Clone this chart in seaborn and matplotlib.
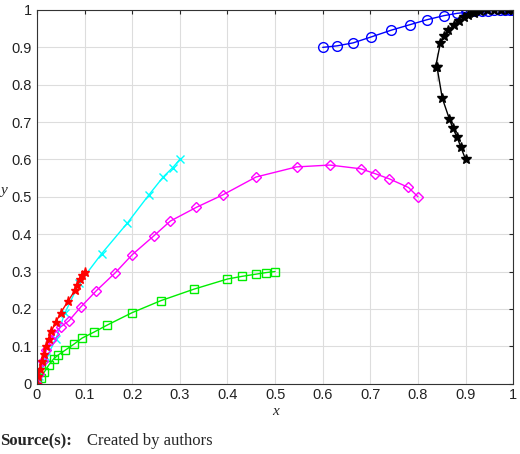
import matplotlib
matplotlib.use("Agg")
import matplotlib.pyplot as plt
import seaborn as sns
import pandas as pd

# curve data
blue_x = [0.6, 0.63, 0.664, 0.702, 0.744, 0.784, 0.819, 0.855, 0.882, 0.903, 0.92, 0.935,
          0.948, 0.96, 0.973, 0.983, 0.994, 1.0]
blue_y = [0.9, 0.904, 0.912, 0.928, 0.946, 0.961, 0.974, 0.985, 0.991, 0.994, 0.996, 0.997,
          0.998, 0.999, 1.0, 1.0, 1.0, 1.0]
black_x = [0.9, 0.89, 0.882, 0.873, 0.866, 0.851, 0.84, 0.837, 0.84, 0.847, 0.855, 0.864,
           0.875, 0.887, 0.897, 0.906, 0.917, 0.931, 0.945, 0.96, 0.975, 0.99, 1.0]
black_y = [0.6, 0.633, 0.66, 0.684, 0.708, 0.764, 0.811, 0.848, 0.884, 0.911, 0.93, 0.947,
           0.96, 0.971, 0.98, 0.987, 0.993, 0.997, 0.999, 1.0, 1.0, 1.0, 1.0]
cyan_x = [0.0, 0.005, 0.02, 0.04, 0.059, 0.089, 0.136, 0.19, 0.235, 0.265, 0.285, 0.3]
cyan_y = [0.0, 0.02, 0.07, 0.12, 0.19, 0.269, 0.348, 0.43, 0.505, 0.553, 0.578, 0.6]
red_x = [0.0, 0.003, 0.006, 0.01, 0.015, 0.02, 0.025, 0.03, 0.04, 0.05, 0.065, 0.08,
         0.085, 0.09, 0.095, 0.1]
red_y = [0.0, 0.02, 0.04, 0.06, 0.08, 0.1, 0.12, 0.14, 0.165, 0.19, 0.22, 0.25,
         0.265, 0.28, 0.29, 0.3]
mag_x = [0.0, 0.005, 0.012, 0.02, 0.029, 0.036, 0.05, 0.067, 0.092, 0.125, 0.164, 0.2,
         0.245, 0.28, 0.335, 0.39, 0.46, 0.545, 0.615, 0.68, 0.71, 0.74, 0.78, 0.8]
mag_y = [0.0, 0.025, 0.06, 0.09, 0.116, 0.134, 0.152, 0.168, 0.205, 0.249, 0.296, 0.345,
         0.395, 0.435, 0.472, 0.505, 0.553, 0.58, 0.585, 0.575, 0.562, 0.548, 0.525, 0.5]
green_x = [0.0, 0.008, 0.015, 0.025, 0.035, 0.045, 0.06, 0.077, 0.095, 0.12, 0.148, 0.2,
           0.26, 0.33, 0.4, 0.43, 0.46, 0.48, 0.5]
green_y = [0.0, 0.015, 0.03, 0.05, 0.066, 0.077, 0.09, 0.105, 0.122, 0.138, 0.157, 0.19,
           0.222, 0.253, 0.28, 0.287, 0.293, 0.297, 0.3]

series = [
    (blue_x, blue_y, "blue", "o", 7),
    (black_x, black_y, "black", "*", 7),
    (cyan_x, cyan_y, "cyan", "x", 6),
    (green_x, green_y, "#00ee00", "s", 6),
    (mag_x, mag_y, "magenta", "D", 5.5),
    (red_x, red_y, "red", "*", 6.5),
]

sns.set_style("white")
plt.rcParams["font.family"] = ["Liberation Sans", "DejaVu Sans"]

fig = plt.figure(figsize=(5.2, 4.54), dpi=100)
ax = fig.add_axes([0.071, 0.155, 0.916, 0.823])

for xs, ys, col, mk, ms in series:
    df = pd.DataFrame({"x": xs, "y": ys})
    sns.lineplot(data=df, x="x", y="y", sort=False, color=col, marker=mk,
                 markersize=ms, markerfacecolor="none" if mk in "osD" else col,
                 markeredgecolor=col, markeredgewidth=1.0, linewidth=1.0, ax=ax)

ticks = [i / 10 for i in range(11)]
labels = ["0"] + [f"{t:.1f}" for t in ticks[1:-1]] + ["1"]
ax.set_xlim(0, 1)
ax.set_ylim(0, 1)
ax.set_xticks(ticks)
ax.set_xticklabels(labels)
ax.set_yticks(ticks)
ax.set_yticklabels(labels)
ax.tick_params(direction="in", length=3, labelsize=10.5, labelcolor="#222222",
               top=True, right=True)
ax.grid(True, color="#dddddd", linewidth=0.8)
for s in ax.spines.values():
    s.set_color("#333333")
    s.set_linewidth(0.8)
ax.set_xlabel("x", fontstyle="italic", family="Liberation Serif", fontsize=11, labelpad=2)
ax.set_ylabel("y", fontstyle="italic", family="Liberation Serif", fontsize=11,
              rotation=0, labelpad=6)

fig.text(0.0, 0.02, "Source(s):", family="Liberation Serif", fontweight="bold", fontsize=12)
fig.text(0.168, 0.02, "Created by authors", family="Liberation Serif", fontsize=12)

fig.savefig("out.png", dpi=100)
